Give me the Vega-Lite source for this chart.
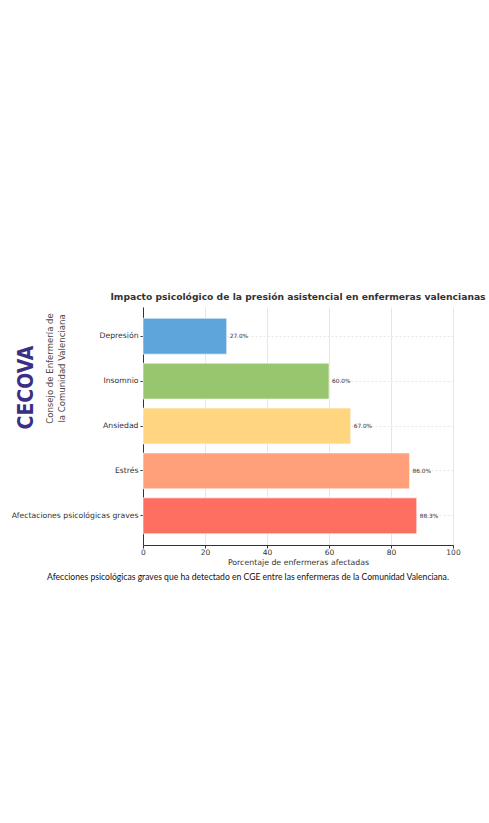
{
  "$schema": "https://vega.github.io/schema/vega-lite/v6.json",
  "width": 310,
  "height": 238,
  "autosize": {"type": "none"},
  "padding": {"left": 143, "top": 307, "right": 36, "bottom": 278},
  "background": "white",
  "title": {
    "text": "Impacto psicológico de la presión asistencial en enfermeras valencianas",
    "font": "DejaVu Sans",
    "fontSize": 9.2,
    "fontWeight": "bold",
    "color": "#333333",
    "anchor": "middle",
    "frame": "group",
    "offset": 5
  },
  "data": {
    "values": [
      {"cat": "Depresión", "pct": 27.0, "label": "27.0%"},
      {"cat": "Insomnio", "pct": 60.0, "label": "60.0%"},
      {"cat": "Ansiedad", "pct": 67.0, "label": "67.0%"},
      {"cat": "Estrés", "pct": 86.0, "label": "86.0%"},
      {"cat": "Afectaciones psicológicas graves", "pct": 88.3, "label": "88.3%"}
    ]
  },
  "config": {"view": {"stroke": null}},
  "resolve": {"axis": {"x": "independent", "y": "independent"}},
  "layer": [
    {
      "mark": {"type": "bar", "stroke": "white", "strokeWidth": 0.6},
      "encoding": {
        "y": {
          "field": "cat",
          "type": "nominal",
          "sort": null,
          "scale": {"paddingInner": 0.2, "paddingOuter": 0.25},
          "axis": {
            "orient": "left",
            "labelFont": "DejaVu Sans",
            "labelFontSize": 7.7,
            "labelColor": "#333333",
            "labelPadding": 2,
            "tickColor": "#333333",
            "tickSize": 3,
            "domainColor": "#333333",
            "grid": true,
            "gridColor": "#e6e6e6",
            "gridDash": [2, 2],
            "title": "CECOVA",
            "titleFont": "Liberation Sans Narrow, DejaVu Sans Condensed, sans-serif",
            "titleFontSize": 21,
            "titleFontWeight": "bold",
            "titleColor": "#3b2f85",
            "titleAngle": -90,
            "titleAlign": "center",
            "titleBaseline": "bottom",
            "titleX": -107,
            "titleY": 80
          }
        },
        "x": {
          "field": "pct",
          "type": "quantitative",
          "scale": {"domain": [0, 100]},
          "axis": {
            "orient": "bottom",
            "values": [0, 20, 40, 60, 80, 100],
            "labelFlush": false,
            "labelFont": "DejaVu Sans",
            "labelFontSize": 7.5,
            "labelColor": "#333333",
            "labelPadding": 0.5,
            "tickColor": "#333333",
            "tickSize": 3,
            "domainColor": "#333333",
            "grid": true,
            "gridColor": "#e6e6e6",
            "title": "Porcentaje de enfermeras afectadas",
            "titleFont": "DejaVu Sans",
            "titleFontSize": 7.8,
            "titleFontWeight": "normal",
            "titleColor": "#333333",
            "titlePadding": 2
          }
        },
        "color": {
          "field": "cat",
          "type": "nominal",
          "legend": null,
          "scale": {
            "domain": ["Depresión", "Insomnio", "Ansiedad", "Estrés", "Afectaciones psicológicas graves"],
            "range": ["#5DA5DA", "#97C66E", "#FFD580", "#FFA07A", "#FF6F61"]
          }
        }
      }
    },
    {
      "mark": {"type": "text", "align": "left", "baseline": "middle", "dx": 3, "font": "DejaVu Sans", "fontSize": 5.8, "color": "#333333"},
      "encoding": {
        "y": {
          "field": "cat",
          "type": "nominal",
          "sort": null,
          "axis": {
            "orient": "left",
            "labels": false,
            "ticks": false,
            "domain": false,
            "grid": false,
            "title": ["Consejo de Enfermería de", "la Comunidad Valenciana"],
            "titleFont": "Liberation Sans Narrow, DejaVu Sans Condensed, sans-serif",
            "titleFontSize": 9.5,
            "titleFontWeight": "normal",
            "titleColor": "#4a4a4a",
            "titleAngle": -90,
            "titleAlign": "center",
            "titleBaseline": "bottom",
            "titleLineHeight": 12,
            "titleX": -89,
            "titleY": 61
          }
        },
        "x": {
          "field": "pct",
          "type": "quantitative",
          "axis": {
            "orient": "bottom",
            "labels": false,
            "ticks": false,
            "domain": false,
            "grid": false,
            "title": "Afecciones psicológicas graves que ha detectado en CGE entre las enfermeras de la Comunidad Valenciana.",
            "titleFont": "Lato",
            "titleFontSize": 8.6,
            "titleFontWeight": "normal",
            "titleColor": "#111111",
            "titleAlign": "center",
            "titleBaseline": "alphabetic",
            "titleX": 104.5,
            "titleY": 34
          }
        },
        "text": {"field": "label"}
      }
    }
  ]
}
